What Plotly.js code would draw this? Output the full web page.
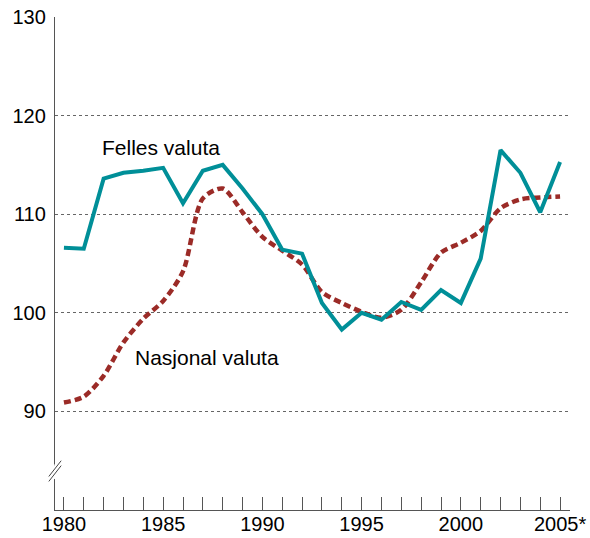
<!DOCTYPE html>
<html>
<head>
<meta charset="utf-8">
<script src="https://cdn.plot.ly/plotly-3.0.1.min.js"></script>
<style>html,body{margin:0;padding:0;background:#fff;}#chart{width:590px;height:538px;}</style>
</head>
<body>
<div id="chart"></div>
<script>
const years = [1980,1981,1982,1983,1984,1985,1986,1987,1988,1989,1990,1991,1992,1993,1994,1995,1996,1997,1998,1999,2000,2001,2002,2003,2004,2005];
const fellesValuta = [106.6,106.5,113.6,114.2,114.4,114.7,111.1,114.4,115.0,112.6,110.0,106.4,106.0,101.0,98.3,100.0,99.3,101.1,100.3,102.3,101.0,105.5,116.5,114.2,110.2,115.3];
const nasjonalValuta = [90.9,91.5,93.6,97.0,99.4,101.2,104.2,111.6,112.6,110.2,107.7,106.3,104.9,102.1,101.0,100.1,99.5,100.3,103.1,106.1,107.1,108.3,110.6,111.5,111.7,111.8];
const xTickVals = [1980,1985,1990,1995,2000,2005];
const xTickText = ['1980','1985','1990','1995','2000','2005*'];
const yTickVals = [90,100,110,120,130];
const labelFelles = 'Felles valuta';
const labelNasjonal = 'Nasjonal valuta';

const tickFont = {family: 'Liberation Sans, Arial, sans-serif', size: 20, color: '#000'};
const annFont = {family: 'Liberation Sans, Arial, sans-serif', size: 21, color: '#000'};

const traces = [
  {x: years, y: nasjonalValuta, type: 'scatter', mode: 'lines', name: labelNasjonal,
   line: {color: '#9b2b27', width: 4.5, dash: '7px,4px', shape: 'spline', smoothing: 0.8}},
  {x: years, y: fellesValuta, type: 'scatter', mode: 'lines', name: labelFelles,
   line: {color: '#008f98', width: 4}}
];

const layout = {
  width: 590, height: 538,
  margin: {l: 55, r: 20, t: 17, b: 28},
  paper_bgcolor: '#fff', plot_bgcolor: '#fff',
  showlegend: false,
  font: tickFont,
  xaxis: {
    range: [1979.55, 2005.5],
    tickvals: xTickVals, ticktext: xTickText,
    ticks: 'inside', ticklen: 13, tickcolor: '#555', tickwidth: 1,
    minor: {dtick: 1, tick0: 1980, ticks: 'inside', ticklen: 13, tickcolor: '#555', tickwidth: 1},
    showgrid: false, zeroline: false,
    showline: true, linecolor: '#555', linewidth: 1.2,
    tickfont: tickFont, ticklabelstandoff: -4, fixedrange: true
  },
  yaxis: {
    range: [80, 130],
    tickvals: yTickVals,
    ticks: '', showgrid: true, gridcolor: '#666', griddash: 'dot', gridwidth: 1,
    zeroline: false, showline: true, linecolor: '#555', linewidth: 1.2,
    tickfont: tickFont, ticklabelstandoff: 4, fixedrange: true
  },
  annotations: [
    {text: labelFelles, x: 1981.83, y: 116.8, xref: 'x', yref: 'y', xanchor: 'left', yanchor: 'middle', showarrow: false, font: annFont},
    {text: labelNasjonal, x: 1983.5, y: 95.5, xref: 'x', yref: 'y', xanchor: 'left', yanchor: 'middle', showarrow: false, font: annFont}
  ],
  shapes: [
    {type: 'line', xref: 'paper', yref: 'y', x0: -0.004, x1: 0.004, y0: 83.2, y1: 84.6, line: {color: '#fff', width: 5}},
    {type: 'line', xref: 'paper', yref: 'y', x0: -0.012, x1: 0.012, y0: 82.9, y1: 84.5, line: {color: '#444', width: 1}},
    {type: 'line', xref: 'paper', yref: 'y', x0: -0.012, x1: 0.012, y0: 83.4, y1: 85.0, line: {color: '#444', width: 1}}
  ]
};

Plotly.newPlot('chart', traces, layout, {displayModeBar: false, staticPlot: true});
</script>
</body>
</html>
